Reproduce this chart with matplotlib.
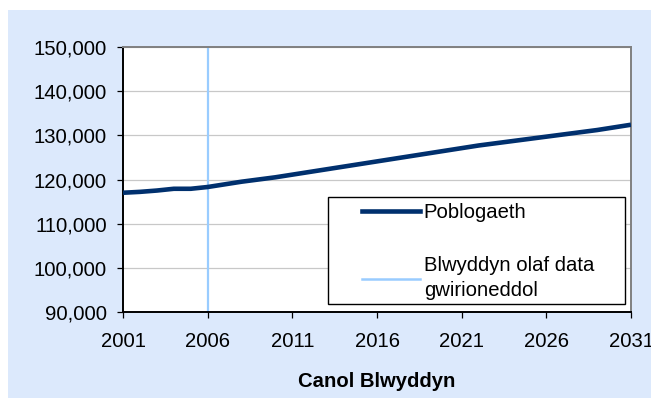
import numpy as np
import matplotlib
matplotlib.use('Agg')
import matplotlib.pyplot as plt
from matplotlib.patches import Rectangle
from matplotlib.lines import Line2D
from matplotlib.ticker import FuncFormatter

plt.rcParams['font.family'] = ['Liberation Sans', 'DejaVu Sans']

years = list(range(2001, 2032))
population = [117000, 117200, 117500, 117900, 117900, 118300, 118900, 119500,
              120000, 120500, 121100, 121700, 122300, 122900, 123500, 124100,
              124700, 125300, 125900, 126500, 127100, 127700, 128200, 128700,
              129200, 129700, 130200, 130700, 131200, 131800, 132400]
last_real_year = 2006
xticks = [2001, 2006, 2011, 2016, 2021, 2026, 2031]
yticks = [90000, 100000, 110000, 120000, 130000, 140000, 150000]

W, H = 651, 401
fig = plt.figure(figsize=(W / 100, H / 100), dpi=100)
fig.patch.set_facecolor('white')

# light blue chart panel
fig.patches.append(Rectangle((8 / W, 1 - 398 / H), (W - 8) / W, 388 / H,
                             transform=fig.transFigure, facecolor='#DCE9FC',
                             edgecolor='none', zorder=-5))

ax = fig.add_axes([123 / W, 1 - 312 / H, 508 / W, 265 / H])
ax.set_facecolor('white')

ax.plot(years, population, color='#00306E', lw=3.3, solid_capstyle='butt', zorder=3)
ax.axvline(last_real_year, color='#99CCFF', lw=1.6, zorder=2)

ax.set_xlim(2001, 2031)
ax.set_ylim(90000, 150000)
ax.set_xticks(xticks)
ax.set_yticks(yticks)
ax.yaxis.set_major_formatter(FuncFormatter(lambda v, p: f'{int(v):,}'))
ax.grid(axis='y', color='#C8C8C8', lw=0.9)
ax.set_axisbelow(True)

ax.tick_params(axis='both', labelsize=14.6, length=4.5, width=0.9, color='black')
ax.tick_params(axis='y', pad=7)
ax.tick_params(axis='x', pad=10)

ax.spines['left'].set_color('black')
ax.spines['bottom'].set_color('black')
ax.spines['top'].set_color('#808080')
ax.spines['right'].set_color('#808080')
for s in ax.spines.values():
    s.set_linewidth(1.4)

ax.set_xlabel('Canol Blwyddyn', fontsize=14.6, fontweight='bold', labelpad=15)

# legend box
ax.add_patch(Rectangle((328 / W, 1 - 304 / H), 297 / W, 107 / H,
                       transform=fig.transFigure, facecolor='white',
                       edgecolor='black', lw=1.0, zorder=5))
handles = [Line2D([], [], color='#00306E', lw=3.3),
           Line2D([], [], color='#99CCFF', lw=1.8)]
labels = ['Poblogaeth', 'Blwyddyn olaf data\ngwirioneddol']
leg = ax.legend(handles, labels, loc='upper left',
                bbox_to_anchor=(362 / W, 1 - 203 / H), bbox_transform=fig.transFigure,
                frameon=False, fontsize=14.6, handlelength=2.85, handletextpad=0.2,
                labelspacing=1.7, borderpad=0, borderaxespad=0)
leg.set_zorder(6)
for t in leg.get_texts():
    t.set_linespacing(1.4)

fig.savefig('out.png', dpi=100)
